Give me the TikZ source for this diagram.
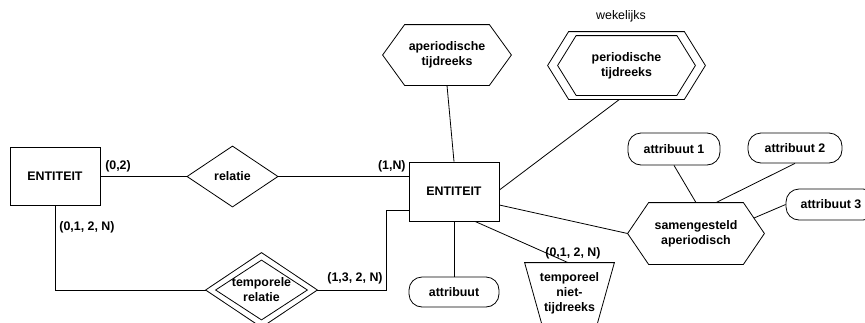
\documentclass[tikz,border=0pt]{standalone}
\usepackage{fontspec}
\setmainfont{Liberation Sans}
\usetikzlibrary{calc}

% outline helpers drawn around invisible, box-shaped nodes
\newcommand{\hexagonpath}[2]{(#1.west) -- ([xshift=#2]#1.north west) -- ([xshift=-#2]#1.north east) -- (#1.east) -- ([xshift=-#2]#1.south east) -- ([xshift=#2]#1.south west) -- cycle}
\newcommand{\diamondpath}[1]{(#1.west) -- (#1.north) -- (#1.east) -- (#1.south) -- cycle}

\begin{document}
\begin{tikzpicture}[x=1pt,y=-1pt,line width=0.8pt,
  every node/.style={font=\fontsize{12.4}{15}\selectfont\bfseries, inner sep=0pt, align=center},
  entitybox/.style={draw, minimum width=90pt, minimum height=59pt},
  attrbox/.style={draw, rounded corners=13pt, minimum width=90pt, minimum height=30pt},
  cardinality/.style={font=\fontsize{12.4}{15}\selectfont\bfseries},
  note/.style={font=\fontsize{12.4}{15}\selectfont\mdseries}
]
\useasboundingbox (0,0) rectangle (865,322);

% entities
\node[entitybox, minimum height=58pt] (e1) at (55,176.5) {ENTITEIT};
\node[entitybox] (e2) at (454,191.5) {ENTITEIT};

% relationships
\node[minimum width=90pt, minimum height=60pt] (rel) at (232.5,176.5) {relatie};
\draw \diamondpath{rel};

\node[minimum width=111pt, minimum height=74pt] (trelout) at (261.5,290) {};
\node[minimum width=91pt, minimum height=59pt] (trel) at (261.5,290) {temporele\\relatie};
\draw \diamondpath{trelout};
\draw \diamondpath{trel};

% time series
\node[minimum width=128pt, minimum height=60pt] (aper) at (447,55) {aperiodische\\tijdreeks};
\draw \hexagonpath{aper}{22pt};

\node[minimum width=157pt, minimum height=67pt] (perout) at (626.5,65.5) {};
\node[minimum width=137pt, minimum height=59pt] (per) at (626.5,65.5) {periodische\\tijdreeks};
\draw \hexagonpath{perout}{21pt};
\draw \hexagonpath{per}{18.5pt};
\node[note] (week) at (621,16) {wekelijks};

\node[minimum width=136pt, minimum height=61pt] (sam) at (696,233.5) {samengesteld\\aperiodisch};
\draw \hexagonpath{sam}{21pt};

% attributes
\node[attrbox] (attr) at (454,292) {attribuut};
\node[attrbox, minimum width=92pt, minimum height=32pt] (a1) at (674,149) {attribuut 1};
\node[attrbox, minimum width=94pt] (a2) at (795,148) {attribuut 2};
\node[attrbox, minimum height=31pt] (a3) at (831,204.5) {attribuut 3};

% temporal non-series (bottom runs off the page)
\node[minimum width=89pt, minimum height=60pt] (trap) at (569.5,293) {temporeel\\niet-\\tijdreeks};
\draw (trap.north west) -- (trap.north east) -- ($(trap.north east)+(-19,68)$)
      -- ($(trap.north west)+(19,68)$) -- cycle;

% connectors
\draw (e1.east) -- (rel.west);
\draw (rel.east) -- (rel.east -| e2.west);
\draw (e1.south) |- (trelout.west);
\draw ([yshift=-18.5pt]e2.west) -- ++(-22,0) |- (trelout.east);
\draw (aper.south) -- (e2.north);
\draw ([xshift=-7pt]perout.south) -- ([yshift=1.5pt]e2.east);
\draw ([yshift=-13.5pt]e2.east) -- (sam.west);
\draw (e2.south) -- (attr.north);
\draw ([xshift=21pt]e2.south) -- ([xshift=-1.5pt]trap.north);
\draw (a1.south) -- (sam.north);
\draw (a2.south) -- ([xshift=20pt]sam.north);
\draw (a3.west) -- ($([xshift=-21pt]sam.north east)!0.5!(sam.east)$);

% cardinalities
\node[cardinality] (c1) at (118,166) {(0,2)};
\node[cardinality, anchor=east] (c2) at (406,166) {(1,N)};
\node[cardinality, anchor=west] (c3) at (59,227) {(0,1, 2, N)};
\node[cardinality, anchor=east] (c4) at (383,278) {(1,3, 2, N)};
\node[cardinality] (c5) at (573,253) {(0,1, 2, N)};
\end{tikzpicture}
\end{document}
